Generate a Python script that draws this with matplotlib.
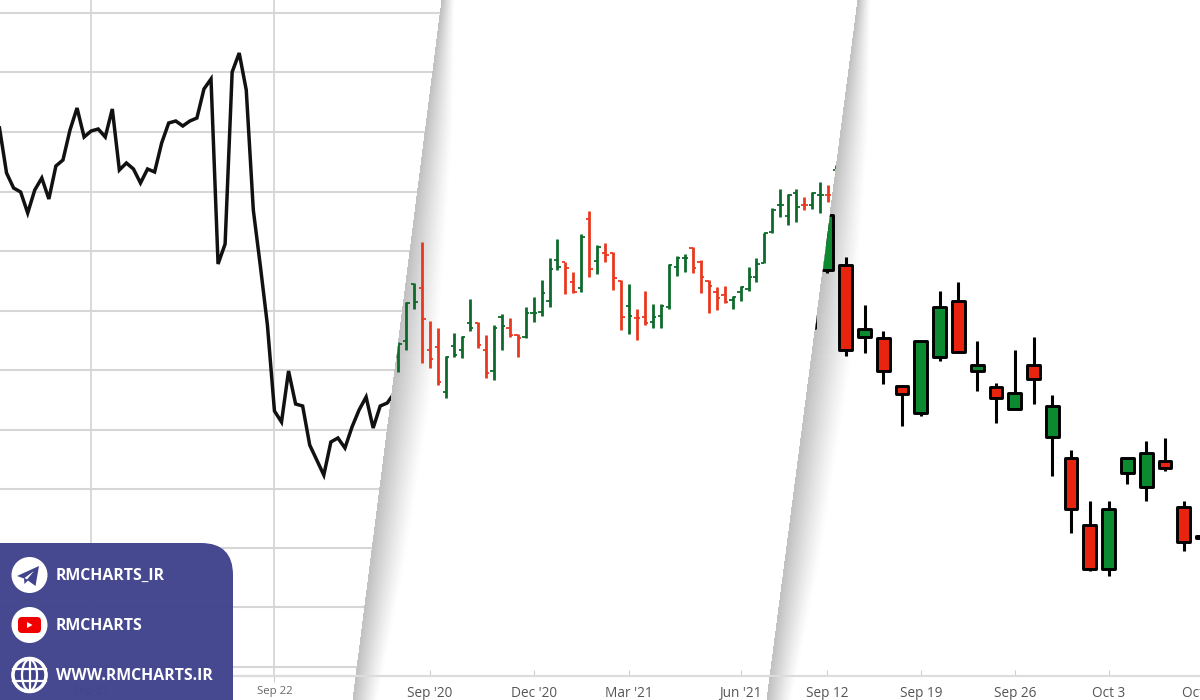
import matplotlib
matplotlib.use("Agg")
import matplotlib.pyplot as plt
from matplotlib.patches import Polygon, FancyBboxPatch, Circle, Ellipse
from matplotlib.collections import PolyCollection
from matplotlib.transforms import Affine2D

# ---------- data ----------
line_values = [54.8,50.3,48.8,48.4,46.3,48.6,49.8,47.7,51.0,51.6,54.6,56.8,53.9,54.5,54.7,53.9,56.7,50.6,51.3,50.7,
               49.3,50.7,50.4,53.3,55.3,55.5,55.0,55.5,55.8,58.7,59.7,41.2,43.2,60.4,62.3,58.6,46.6,41.0,35.1,26.5,
               25.4,30.5,27.2,27.0,23.1,21.6,20.1,23.4,23.8,22.8,24.9,26.6,27.9,24.8,27.0,27.3,28.3]
line_grid = [66.3,60.4,54.4,48.45,42.5,36.55,30.6,24.65,18.7,12.8,6.9,0.9]
line_ticks = [13, 39]
line_ticklabels = ["Sep 21", "Sep 22"]

bar_high = [33.4,37.4,39.3,43.4,35.5,34.8,32.0,34.3,34.0,37.7,35.4,34.1,35.1,36.2,35.8,34.2,36.9,37.9,39.6,41.8,
            43.7,41.4,40.4,44.2,46.5,43.1,43.3,42.4,39.6,39.2,36.7,38.5,37.2,37.2,41.2,42.0,42.2,42.9,41.6,39.6,
            38.9,39.0,38.0,39.0,40.9,41.8,44.3,46.8,48.7,48.2,48.7,47.9,48.4,49.4,49.1,51.1]
bar_low = [30.4,32.6,36.7,31.3,30.8,29.1,27.8,31.9,31.8,34.5,32.8,29.8,29.6,32.6,33.9,31.9,33.8,35.4,36.0,36.9,
           40.6,38.2,38.3,38.4,39.9,40.2,41.4,38.6,34.6,34.2,33.6,35.1,34.8,34.8,36.7,40.0,40.4,40.3,38.3,36.3,
           36.6,37.3,36.7,37.5,38.5,39.4,41.3,44.3,45.9,45.1,45.4,46.6,46.7,46.3,47.4,49.6]
bar_open = [31.9,33.5,39.2,38.8,32.6,32.9,28.4,33.0,32.6,35.3,35.3,32.6,30.5,35.9,34.8,34.1,33.9,36.3,36.4,37.5,
            41.6,41.4,39.4,38.8,45.7,41.5,42.3,42.3,39.5,37.0,35.8,35.9,35.4,36.0,36.9,40.9,41.8,42.8,41.4,39.5,
            38.4,38.1,37.6,38.4,38.7,39.9,41.3,44.4,47.1,46.0,48.3,47.1,47.1,48.1,48.1,50.6]
bar_close = [33.2,37.3,37.4,35.7,31.7,29.4,31.9,32.1,33.9,34.8,33.1,30.3,34.8,35.0,34.1,33.8,36.3,36.3,38.3,40.7,
             40.9,40.8,38.4,43.9,40.7,42.9,42.1,39.8,35.9,36.0,35.8,35.3,35.9,37.0,41.1,41.8,41.8,40.8,39.9,39.0,
             37.8,37.4,37.9,38.9,39.9,41.2,44.3,46.6,47.1,48.1,46.9,47.1,48.3,48.1,48.1,50.9]
bar_dirs = list("ggg" "rrr" "gggg" "rr" "gg" "rr" "gggg" "g" "rr" "g" "r" "g" "rrr" "g" "r" "r" "gg" "ggg"
                "rrrrr" "gg" "ggg" "ggg" "g" "r" "gg" "r" "g" "g")
bar_ticks = [4, 17, 29, 43]
bar_ticklabels = ["Sep '20", "Dec '20", "Mar '21", "Jun '21"]

candle_index = list(range(-1, 21))
candle_high = [36.4,46.1,41.9,37.1,34.5,29.1,33.5,38.5,39.4,33.5,29.3,32.6,33.9,28.1,22.6,17.5,17.5,21.8,23.5,23.8,17.5,13.8]
candle_low = [34.8,40.3,32.0,32.3,29.2,25.0,26.0,31.5,32.3,28.5,25.3,26.7,27.2,20.0,14.3,10.5,10.0,19.2,17.5,20.5,12.5,13.8]
candle_top = [36.4,46.1,41.1,34.7,33.8,29.0,33.5,36.9,37.5,31.1,28.9,28.3,31.1,27.0,21.8,15.1,16.7,21.8,22.3,21.5,16.9,14.0]
candle_bottom = [34.8,40.6,32.6,33.9,30.5,28.2,26.3,31.9,32.4,30.5,27.8,26.7,29.7,23.9,16.7,10.7,10.7,20.3,18.9,20.8,13.4,13.8]
candle_dirs = list("ggrgrrggrgrgrgrrggg" "rrr")
candle_ticks = [0, 5, 10, 15, 20]
candle_ticklabels = ["Sep 12", "Sep 19", "Sep 26", "Oct 3", "Oct 10"]

banner_labels = ["RMCHARTS_IR", "RMCHARTS", "WWW.RMCHARTS.IR"]

# ---------- style ----------
RED_BAR, GREEN_BAR = "#e8391f", "#0d6a2c"
RED_C, GREEN_C = "#e8240f", "#0b8a30"
BANNER = "#41438d"
plt.rcParams["font.family"] = ["Open Sans", "DejaVu Sans"]

fig = plt.figure(figsize=(12, 7), dpi=100, facecolor="white")
px = Affine2D().scale(1, -1).translate(0, 700)   # image-pixel transform for the page furniture


def panel(zorder, xlim, width=1.0):
    ax = fig.add_axes([0, 24 / 700, width, 676 / 700], zorder=zorder)
    ax.patch.set_visible(False)
    ax.set_xlim(*xlim)
    ax.set_ylim(0, 67.6)
    ax.set_yticks([])
    for s in ("top", "left", "right"):
        ax.spines[s].set_visible(False)
    ax.spines["bottom"].set_color("#dcdcdc")
    ax.spines["bottom"].set_linewidth(1.5)
    return ax


def sheet(ax, top_x, bottom_x, right=1230):
    poly = Polygon([(top_x, 0), (right, 0), (right, 700), (bottom_x, 700)], closed=True,
                   facecolor="white", edgecolor="none", transform=px, clip_on=False, zorder=0)
    ax.add_patch(poly)
    nodes = [(0, 12), (120, 26), (350, 40), (560, 34), (700, 24)]
    edge = lambda yy: top_x + (bottom_x - top_x) * yy / 700
    n = 40
    polys, cols = [], []
    for k in range(n, 0, -1):
        t = k / n
        left = [(edge(yy), yy) for yy, _ in nodes]
        right_side = [(edge(yy) + w * t, yy) for yy, w in reversed(nodes)]
        polys.append(left + right_side)
        g = 1 - 0.24 * (1 - (k - 1) / n) ** 1.15
        cols.append((g, g, g))
    ax.add_collection(PolyCollection(polys, facecolors=cols, edgecolors="none", transform=px,
                                     clip_on=False, zorder=0.5, antialiaseds=False), autolim=False)
    return poly


# ---------- panel 1: line ----------
ax1 = panel(1, (0.071, 170.28))
ax1.set_yticks(line_grid)
ax1.tick_params(axis="y", length=0, labelleft=False)
ax1.grid(axis="y", color="#d6d6d6", lw=1.5)
ax1.grid(axis="x", color="#cfcfcf", lw=1.1)
ax1.set_axisbelow(True)
ax1.set_xticks(line_ticks, line_ticklabels, fontsize=8.2, color="#666666")
ax1.tick_params(axis="x", length=4, color="#cbcbcb", pad=3)
ax1.plot(range(len(line_values)), line_values, color="#111111", lw=2.5, solid_joinstyle="miter")

# ---------- panel 2: OHLC bars ----------
ax2 = panel(2, (-50.04, 100.72))
clip2 = sheet(ax2, 442, 353)
for i, (h, l, o, c, d) in enumerate(zip(bar_high, bar_low, bar_open, bar_close, bar_dirs)):
    col = GREEN_BAR if d == "g" else RED_BAR
    arts = [ax2.vlines(i, l, h, color=col, lw=2.0, zorder=3),
            ax2.hlines(o, i - 0.42, i, color=col, lw=1.3, zorder=3),
            ax2.hlines(c, i, i + 0.42, color=col, lw=1.3, zorder=3)]
    for a in arts:
        a.set_clip_path(clip2)
ax2.set_xticks(bar_ticks, bar_ticklabels, fontsize=9.8, color="#555555")
ax2.tick_params(axis="x", direction="in", length=4, color="#cfcfcf", pad=7)

# ---------- panel 3: candles ----------
ax3 = panel(3, (-44.04, 20.93), width=1220 / 1200)
clip3 = sheet(ax3, 858, 767)
for i, h, l, t, b, d in zip(candle_index, candle_high, candle_low, candle_top, candle_bottom, candle_dirs):
    col = GREEN_C if d == "g" else RED_C
    w = ax3.vlines(i, l, h, color="black", lw=2.2, zorder=3)
    r = ax3.bar(i, t - b, width=0.68, bottom=b, color=col, edgecolor="black", linewidth=2.1, zorder=4,
                joinstyle="round")
    w.set_clip_path(clip3)
    for p in r:
        p.set_clip_path(clip3)
ax3.set_xticks(candle_ticks, candle_ticklabels, fontsize=9.8, color="#555555")
ax3.tick_params(axis="x", direction="in", length=4, color="#cfcfcf", pad=7)

# ---------- banner ----------
ov = fig.add_axes([0, 0, 1, 1], zorder=5)
ov.set_xlim(0, 1200)
ov.set_ylim(700, 0)
ov.axis("off")
ov.add_patch(FancyBboxPatch((-60, 543), 293, 220, boxstyle="round,pad=0,rounding_size=32",
                            facecolor=BANNER, edgecolor="none", alpha=0.97))
ys = [575, 625, 675]
for y, lab in zip(ys, banner_labels):
    ov.add_patch(Circle((29.5, y), 18, facecolor="white", edgecolor="none"))
    ov.text(56, y + 0.5, lab, color="white", fontsize=11.4, fontweight="bold", va="center", ha="left",
            family=["Open Sans", "DejaVu Sans"])
# telegram
y = ys[0]
ov.add_patch(Polygon([(17, y + 1), (39, y - 9), (35.5, y + 11), (28, y + 5.5), (24.5, y + 9), (24, y + 3.5)],
                     closed=True, facecolor=BANNER, edgecolor="none"))
ov.add_patch(Polygon([(24.5, y + 3), (34, y - 4), (27, y + 4.5)], closed=True, facecolor="white", edgecolor="none"))
# youtube
y = ys[1]
ov.add_patch(FancyBboxPatch((18, y - 8), 23, 16, boxstyle="round,pad=0,rounding_size=4",
                            facecolor="#f00000", edgecolor="none"))
ov.add_patch(Polygon([(27, y - 3), (27, y + 3), (32.5, y)], closed=True, facecolor="white", edgecolor="none"))
# globe
y = ys[2]
ov.add_patch(Circle((29.5, y), 15.5, facecolor=BANNER, edgecolor="none"))
ov.add_patch(Ellipse((29.5, y), 15, 31, facecolor="none", edgecolor="white", lw=1.6))
ov.plot([29.5, 29.5], [y - 16, y + 16], color="white", lw=1.6)
ov.plot([13, 46], [y - 6, y - 6], color="white", lw=1.6)
ov.plot([13, 46], [y + 6, y + 6], color="white", lw=1.6)
ov.add_patch(Circle((29.5, y), 16.5, facecolor="none", edgecolor="white", lw=2.5))

fig.savefig("out.png", dpi=100, facecolor="white")
